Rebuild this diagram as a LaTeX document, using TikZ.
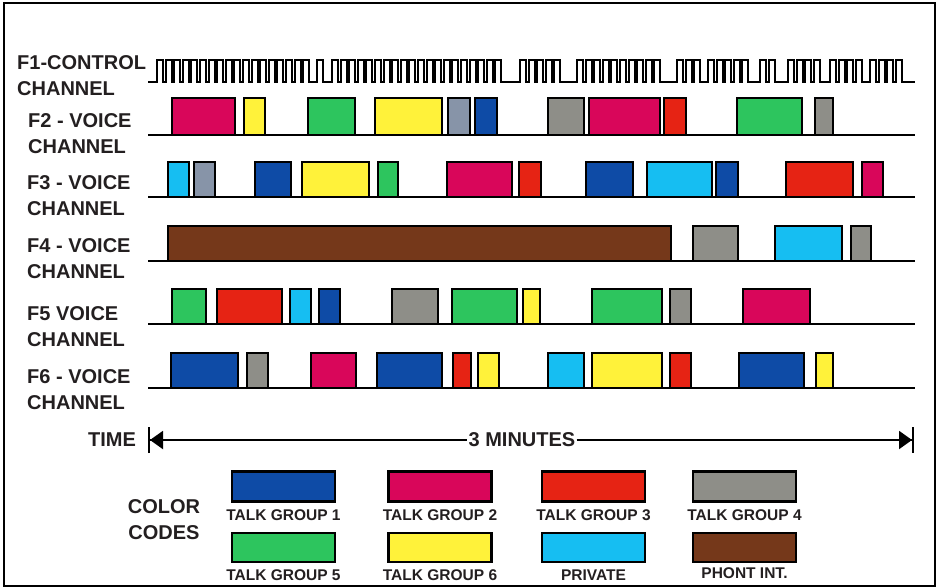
\documentclass[tikz,border=0pt]{standalone}
\usepackage{fontspec}
\setmainfont{Liberation Sans}
\usepackage{tikz}
\usetikzlibrary{arrows.meta, positioning}
\usepackage{xcolor}
\definecolor{TalkOne}{HTML}{0E4BA6}
\definecolor{TalkTwo}{HTML}{D9065A}
\definecolor{TalkThree}{HTML}{E62314}
\definecolor{TalkFour}{HTML}{8E8E88}
\definecolor{TalkFive}{HTML}{2DC55E}
\definecolor{TalkSix}{HTML}{FFF23A}
\definecolor{PrivBlue}{HTML}{16BEF2}
\definecolor{PhoneBrown}{HTML}{75381A}
\definecolor{SlateGray}{HTML}{8794A8}
\definecolor{TextBlack}{HTML}{231F20}
\tikzset{
    % Label styles
    chlabel/.style={
        font=\fontsize{20}{26}\selectfont\bfseries,
        text=TextBlack,
        align=left,
        anchor=west,
        inner sep=0pt
    },
    keylabel/.style={
        font=\fontsize{15.5}{18}\selectfont\bfseries,
        text=TextBlack,
        inner sep=0pt
    },
    % Channel styles
    chline/.style={
        draw=black,
        line width=2.2pt
    },
    pulseline/.style={
        draw=black,
        line width=2pt,
        line join=miter
    },
    burst/.style={
        draw=black,
        line width=2.4pt
    },
    % Legend boxes
    keybox/.style={
        rectangle,
        draw=black,
        line width=2.4pt,
        minimum width=103pt,
        minimum height=30pt,
        inner sep=0pt
    },
    % Time axis
    timearrow/.style={
        draw=black,
        line width=2pt
    }
}
\begin{document}
\begin{tikzpicture}[x=1pt, y=-1pt]
    \useasboundingbox (0,0) rectangle (939,588);

    % Frame
    \draw[line width=2.5pt] (4,3) rectangle (935,586);

    % Channel labels
    \node[chlabel] (f1) at (17,76) {F1-CONTROL\\CHANNEL};
    \node[chlabel] (f2) at (28,133.5) {F2 - VOICE\\CHANNEL};
    \node[chlabel] (f3) at (27,196) {F3 - VOICE\\CHANNEL};
    \node[chlabel] (f4) at (27,259) {F4 - VOICE\\CHANNEL};
    \node[chlabel] (f5) at (27,327) {F5 VOICE\\CHANNEL};
    \node[chlabel] (f6) at (27,390) {F6 - VOICE\\CHANNEL};

    % F1 - control channel pulses
    \draw[pulseline] (148,82)
        \foreach \s/\n in {157/18, 317/1, 332/20, 520/5, 577/10, 677/3, 708/5, 760/2, 788/4, 830/4, 870/4} {
            \foreach \k in {1,...,\n} {
                -- ({\s+(\k-1)*8.6},82) -- ({\s+(\k-1)*8.6},60)
                -- ({\s+(\k-1)*8.6+6},60) -- ({\s+(\k-1)*8.6+6},82)
            }
        } -- (915,82);

    % F2 - voice channel
    \draw[chline] (148,135) -- (915,135);
    \foreach \a/\b/\c in {172/235/TalkTwo, 244/265/TalkSix, 308/355/TalkFive, 375/442/TalkSix,
        448/470/SlateGray, 475/497/TalkOne, 548/584/TalkFour, 589/660/TalkTwo,
        664/686/TalkThree, 737/802/TalkFive, 815/833/TalkFour}
        \draw[burst, fill=\c] (\a,98) rectangle (\b,135);

    % F3 - voice channel
    \draw[chline] (148,197) -- (915,197);
    \foreach \a/\b/\c in {168/189/PrivBlue, 194/215/SlateGray, 255/291/TalkOne, 302/369/TalkSix,
        378/398/TalkFive, 447/512/TalkTwo, 519/541/TalkThree, 586/633/TalkOne,
        647/712/PrivBlue, 716/738/TalkOne, 786/853/TalkThree, 862/883/TalkTwo}
        \draw[burst, fill=\c] (\a,162) rectangle (\b,197);

    % F4 - voice channel
    \draw[chline] (148,261) -- (915,261);
    \foreach \a/\b/\c in {168/671/PhoneBrown, 693/738/TalkFour, 775/842/PrivBlue, 851/871/TalkFour}
        \draw[burst, fill=\c] (\a,226) rectangle (\b,261);

    % F5 - voice channel
    \draw[chline] (148,324) -- (915,324);
    \foreach \a/\b/\c in {172/206/TalkFive, 217/282/TalkThree, 290/311/PrivBlue, 319/340/TalkOne,
        392/438/TalkFour, 452/517/TalkFive, 523/540/TalkSix, 592/662/TalkFive,
        670/691/TalkFour, 743/810/TalkTwo}
        \draw[burst, fill=\c] (\a,289) rectangle (\b,324);

    % F6 - voice channel
    \draw[chline] (148,388) -- (915,388);
    \foreach \a/\b/\c in {171/238/TalkOne, 247/268/TalkFour, 311/356/TalkTwo, 377/442/TalkOne,
        453/471/TalkThree, 478/499/TalkSix, 548/584/PrivBlue, 592/662/TalkSix,
        670/691/TalkThree, 739/804/TalkOne, 816/833/TalkSix}
        \draw[burst, fill=\c] (\a,353) rectangle (\b,388);

    % Time axis
    \node[chlabel] (time) at (88,440) {TIME};
    \coordinate (tstart) at (148,440);
    \coordinate (tend) at (914,440);
    \node[font=\fontsize{20}{24}\selectfont\bfseries, text=TextBlack, fill=white, inner sep=1pt] (span) at (522,440) {3 MINUTES};
    \draw[timearrow, {Bar[width=26pt]Triangle[length=13pt,width=18pt]}-] (tstart) -- (span.west);
    \draw[timearrow, -{Triangle[length=13pt,width=18pt]Bar[width=26pt]}] (span.east) -- (tend);

    % Color codes
    \node[chlabel, align=center, anchor=center] (codes) at (164,520) {COLOR\\CODES};

    \node[keybox, fill=TalkOne] (tg1) at (283.5,486.5) {};
    \node[keybox, fill=TalkTwo] (tg2) at (440,486.5) {};
    \node[keybox, fill=TalkThree] (tg3) at (593.5,486.5) {};
    \node[keybox, fill=TalkFour] (tg4) at (744.5,486.5) {};
    \node[keybox, fill=TalkFive, minimum height=29pt] (tg5) at (283.5,547.5) {};
    \node[keybox, fill=TalkSix, minimum height=29pt] (tg6) at (440,547.5) {};
    \node[keybox, fill=PrivBlue, minimum height=29pt] (priv) at (593.5,547.5) {};
    \node[keybox, fill=PhoneBrown, minimum height=29pt] (phone) at (744.5,547.5) {};

    \node[keylabel, below=7pt of tg1] (tg1l) {TALK GROUP 1};
    \node[keylabel, below=7pt of tg2] (tg2l) {TALK GROUP 2};
    \node[keylabel, below=7pt of tg3] (tg3l) {TALK GROUP 3};
    \node[keylabel, below=7pt of tg4] (tg4l) {TALK GROUP 4};
    \node[keylabel, below=6pt of tg5] (tg5l) {TALK GROUP 5};
    \node[keylabel, below=6pt of tg6] (tg6l) {TALK GROUP 6};
    \node[keylabel, below=6pt of priv] (privl) {PRIVATE};
    \node[keylabel, below=4pt of phone] (phonel) {PHONT INT.};
\end{tikzpicture}
\end{document}
